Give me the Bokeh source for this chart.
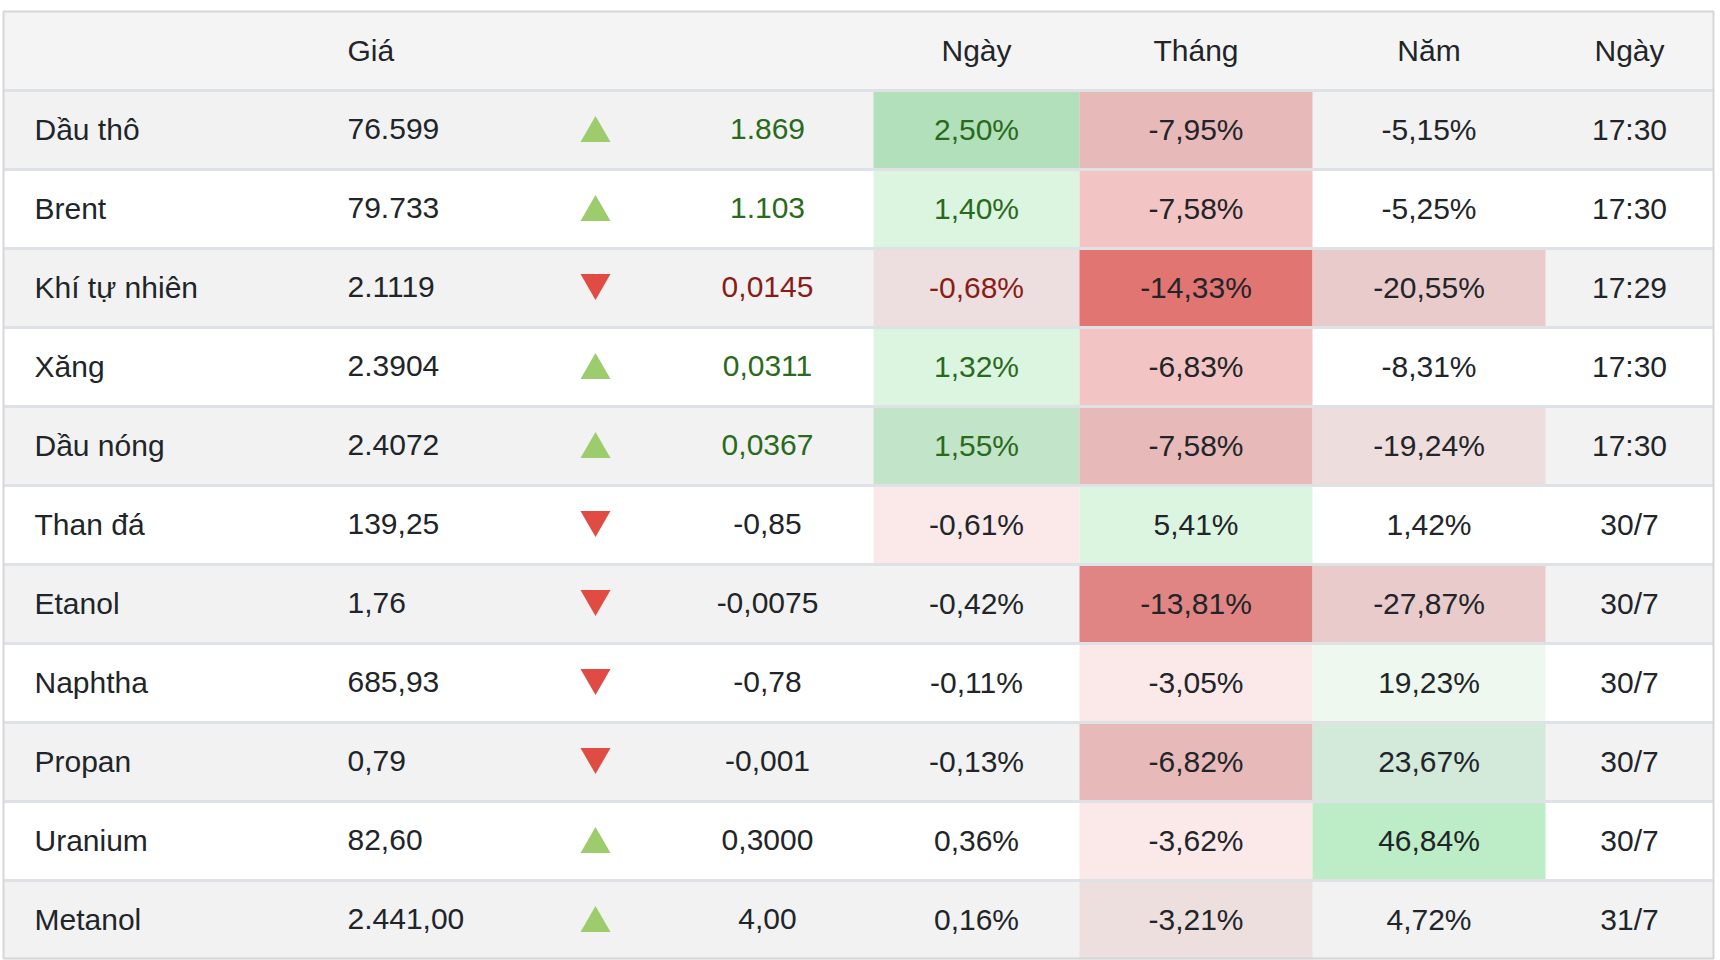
from bokeh.plotting import figure
from bokeh.models import ColumnDataSource, Range1d
from bokeh.core.properties import value
from bokeh.embed import file_html
from bokeh.resources import INLINE

# ---------------- data ----------------
headers = ["Giá", "Ngày", "Tháng", "Năm", "Ngày"]
names = ["Dầu thô", "Brent", "Khí tự nhiên", "Xăng", "Dầu nóng", "Than đá",
         "Etanol", "Naphtha", "Propan", "Uranium", "Metanol"]
prices = ["76.599", "79.733", "2.1119", "2.3904", "2.4072", "139,25",
          "1,76", "685,93", "0,79", "82,60", "2.441,00"]
directions = ["up", "up", "down", "up", "up", "down",
              "down", "down", "down", "up", "up"]
changes = ["1.869", "1.103", "0,0145", "0,0311", "0,0367", "-0,85",
           "-0,0075", "-0,78", "-0,001", "0,3000", "4,00"]
day_pct = ["2,50%", "1,40%", "-0,68%", "1,32%", "1,55%", "-0,61%",
           "-0,42%", "-0,11%", "-0,13%", "0,36%", "0,16%"]
month_pct = ["-7,95%", "-7,58%", "-14,33%", "-6,83%", "-7,58%", "5,41%",
             "-13,81%", "-3,05%", "-6,82%", "-3,62%", "-3,21%"]
year_pct = ["-5,15%", "-5,25%", "-20,55%", "-8,31%", "-19,24%", "1,42%",
            "-27,87%", "19,23%", "23,67%", "46,84%", "4,72%"]
times = ["17:30", "17:30", "17:29", "17:30", "17:30", "30/7",
         "30/7", "30/7", "30/7", "30/7", "31/7"]

# ---------------- styles ----------------
day_fill = ["#b2e0ba", "#dcf5e1", "#eddfdf", "#dcf5e1", "#c2e5c9", "#fbe9e9",
            None, None, None, None, None]
month_fill = ["#e8b9b9", "#f3c4c4", "#e07572", "#f3c4c4", "#e8b9b9", "#dcf5e1",
              "#e08584", "#fbe9e9", "#e8b9b9", "#fbe9e9", "#eedfdf"]
year_fill = [None, None, "#eacbcc", None, "#eedddd", None,
             "#e9cbcc", "#eef8ef", "#d3e9da", "#bcedc6", None]
DARK = "#212529"
GREEN_T = "#2a6a1c"
RED_T = "#8a1c17"
change_color = [GREEN_T, GREEN_T, RED_T, GREEN_T, GREEN_T] + [DARK] * 6
UP_COL, DOWN_COL = "#9ccc6c", "#e04b43"

FONT = value("Liberation Sans")
FS = "30px"

# layout (screen pixels)
W, H = 1720, 960
TOP, HEAD_B, ROW_H = 11, 90, 79
LEFT, RIGHT = 3, 1713
NAME_X, PRICE_X, ARROW_X, CHG_X, TIME_X = 34, 347, 595, 767, 1629
EDGES = [873, 1079, 1312, 1545]
MSIZE = 30
TEXT_DY = -1

p = figure(width=W, height=H, x_range=Range1d(0, W), y_range=Range1d(H, 0),
           output_backend="svg", toolbar_location=None, min_border=0)
p.axis.visible = False
p.grid.visible = False
p.outline_line_color = None
p.background_fill_color = "white"
p.border_fill_color = "white"

n = len(names)
row_top = [HEAD_B + ROW_H * i for i in range(n)]
row_bot = [t + ROW_H for t in row_top]
row_mid = [t + ROW_H / 2 for t in row_top]

# header background
p.quad(left=[LEFT], right=[RIGHT], top=[TOP], bottom=[HEAD_B], fill_color="#f4f4f4", line_color=None)
# row backgrounds
p.quad(left=[LEFT] * n, right=[RIGHT] * n, top=row_top, bottom=row_bot,
       fill_color=["#f2f2f2" if i % 2 == 0 else "#ffffff" for i in range(n)], line_color=None)

# heat cells
for ci, fills in enumerate([day_fill, month_fill, year_fill]):
    idx = [i for i in range(n) if fills[i]]
    p.quad(left=[EDGES[ci]] * len(idx), right=[EDGES[ci + 1]] * len(idx),
           top=[row_top[i] for i in idx], bottom=[row_bot[i] for i in idx],
           fill_color=[fills[i] for i in idx], line_color=None)

# separators
ys = [HEAD_B] + row_bot[:-1]
p.segment(x0=[LEFT] * len(ys), x1=[RIGHT] * len(ys), y0=ys, y1=ys, line_color="#dee2e6", line_width=3)
# outer border
p.quad(left=[LEFT], right=[RIGHT], top=[TOP], bottom=[row_bot[-1] - 1], fill_color=None,
       line_color="#d6d6d6", line_width=2)

# header texts
hy = (TOP + HEAD_B) / 2 + TEXT_DY
p.text(x=[PRICE_X], y=[hy], text=[headers[0]], text_font=FONT, text_font_size=FS,
       text_align="left", text_baseline="middle", text_color=DARK)
hx = [(EDGES[0] + EDGES[1]) / 2, (EDGES[1] + EDGES[2]) / 2, (EDGES[2] + EDGES[3]) / 2, TIME_X]
p.text(x=hx, y=[hy] * 4, text=headers[1:], text_font=FONT, text_font_size=FS,
       text_align="center", text_baseline="middle", text_color=DARK)

ty = [m + TEXT_DY for m in row_mid]
src = ColumnDataSource(dict(
    y=ty, names=names, prices=prices, changes=changes, day=day_pct, month=month_pct,
    year=year_pct, times=times, ccol=change_color))

def col_text(x, field, align, color):
    p.text(x=x, y="y", text=field, source=src, text_font=FONT, text_font_size=FS,
           text_align=align, text_baseline="middle", text_color=color)

col_text(NAME_X, "names", "left", DARK)
col_text(PRICE_X, "prices", "left", DARK)
col_text(CHG_X, "changes", "center", "ccol")
col_text(hx[0], "day", "center", "ccol")
col_text(hx[1], "month", "center", DARK)
col_text(hx[2], "year", "center", DARK)
col_text(TIME_X, "times", "center", DARK)

# arrows
off = MSIZE * 0.866 / 6
p.scatter(x=[ARROW_X] * n,
          y=[row_mid[i] - 1 + (off if directions[i] == "up" else -off) for i in range(n)],
          marker=["triangle" if d == "up" else "inverted_triangle" for d in directions],
          size=MSIZE,
          fill_color=[UP_COL if d == "up" else DOWN_COL for d in directions],
          line_color=None)

open("out.html", "w").write(file_html(p, INLINE))
